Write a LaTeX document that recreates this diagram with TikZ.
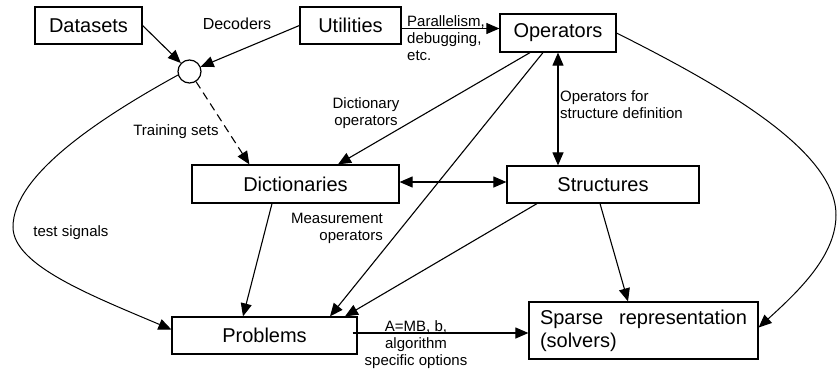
\documentclass[tikz,border=0pt]{standalone}
\usepackage{fontspec}
\setmainfont{Liberation Sans}
\usetikzlibrary{arrows.meta,calc}
\begin{document}
\begin{tikzpicture}[x=1pt,y=-1pt,
 box/.style={draw,line width=1.2pt,inner sep=0pt,font=\fontsize{20}{23}\selectfont},
 lbl/.style={inner sep=0pt,font=\fontsize{15}{17}\selectfont,align=center},
 conn/.style={line width=1.1pt,-{Triangle[length=13pt,width=11pt]}},
 both/.style={line width=1.1pt,{Triangle[length=13pt,width=11pt]}-{Triangle[length=13pt,width=11pt]}}]
\useasboundingbox (0,0) rectangle (839,370);
% boxes
\node[box,minimum width=107pt,minimum height=37pt] (ds) at (88.5,25.5) {Datasets};
\node[box,minimum width=101pt,minimum height=37pt] (ut) at (350.5,25.5) {Utilities};
\node[box,minimum width=116pt,minimum height=38pt] (ops) at (558,33) {Operators};
\node[draw,line width=1.2pt,circle,minimum size=23pt,inner sep=0pt] (c) at (189.5,71.5) {};
\node[box,minimum width=207pt,minimum height=38pt] (dict) at (295.5,184) {Dictionaries};
\node[box,minimum width=192pt,minimum height=37pt] (str) at (603,184.5) {Structures};
\node[box,minimum width=185pt,minimum height=37pt] (prob) at (264.5,335.5) {Problems};
\node[box,minimum width=229pt,minimum height=57pt,text width=207pt,align=left] (sp) at (643.5,330.5)
  {\makebox[207pt][s]{Sparse\hfill representation}\\(solvers)};
% labels
\node[lbl,font=\fontsize{16}{18}\selectfont] (ldec) at (237,24) {Decoders};
\node[lbl,align=left,anchor=north west] (lpar) at (407,15) {Parallelism,\\debugging,\\etc.};
\node[lbl] (ldic) at (366,113.5) {Dictionary\\operators};
\node[lbl] (ltr) at (176,132) {Training sets};
\node[lbl,align=left,anchor=west] (lopf) at (560,105) {Operators for\\structure definition};
\node[lbl] (lts) at (71,233) {test signals};
\node[lbl,align=right,anchor=east] (lmeas) at (383,228) {Measurement\\operators};
\node[lbl,anchor=north] (lamb) at (416,320.5) {A=MB, b,\\algorithm\\specific options};
% connectors
\draw[conn] (ds.east) -- (c);
\draw[conn] (ut.west) -- (c);
\draw[conn,dash pattern=on 8pt off 5pt] (c) -- ($(dict.north west)+(58,0)$);
\draw[conn,line width=1pt] (c.197) .. controls (100,118) and (13,175) .. (13,227)
   .. controls (13,265) and (90,295) .. ($(prob.west)+(0,-6)$);
\coordinate (pu) at ($(ut.east)+(0,3)$);
\draw[conn] (pu) -- (ops.west |- pu);
\draw[conn] ($(ops.south)+(-28,0)$) -- ($(dict.north)+(42.5,0)$);
\draw[conn] ($(ops.south)+(-15,0)$) -- ($(prob.north)+(65.5,0)$);
\draw[both] (ops.south) -- (ops.south |- str.north);
\draw[conn,line width=1pt] (ops.east) .. controls (720,85) and (836,150) .. (836,215)
   .. controls (836,255) and (800,290) .. ($(sp.east)+(0,-3)$);
\coordinate (ds1) at ($(dict.east)+(0,-2)$);
\draw[both] (ds1) -- (str.west |- ds1);
\draw[conn] ($(dict.south)+(-23.5,0)$) -- ($(prob.north)+(-21.5,0)$);
\draw[conn] ($(str.south)+(-66,0)$) -- ($(prob.north)+(80.5,0)$);
\draw[conn] ($(str.south)+(-3,0)$) -- ($(sp.north)+(-15.5,0)$);
\coordinate (pp) at ($(prob.east)+(-5,-2.5)$);
\draw[conn] (pp) -- (sp.west |- pp);
\end{tikzpicture}
\end{document}
